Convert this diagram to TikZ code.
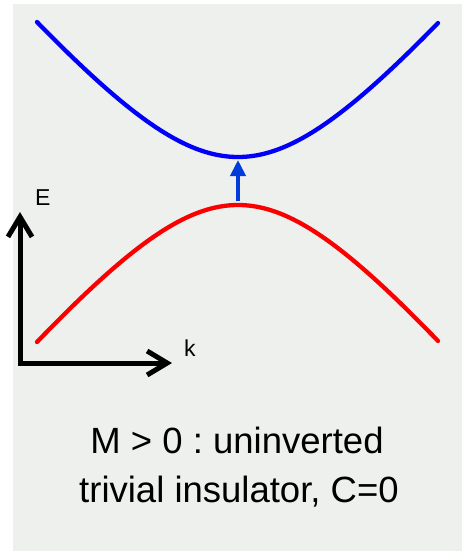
\documentclass[tikz,border=0pt]{standalone}
\usepackage{fontspec}
\setmainfont{Liberation Sans}
\usetikzlibrary{arrows.meta}
\definecolor{bggray}{RGB}{238,240,237}
\definecolor{bandblue}{RGB}{0,0,250}
\definecolor{bandred}{RGB}{250,0,0}
\definecolor{gapblue}{RGB}{0,60,220}
\frenchspacing
\tikzset{
  band/.style={line width=4.3pt, line cap=round},
  axis/.style={line width=5pt, line join=miter, {Straight Barb[length=20pt,width=24pt,line join=miter]}-{Straight Barb[length=20pt,width=24pt,line join=miter]}},
  gaparrow/.style={line width=3.8pt, gapblue, -{Triangle[length=16pt,width=15pt]}},
  axlabel/.style={font=\fontsize{23}{26}\selectfont, inner sep=0pt, anchor=base west},
  caption/.style={font=\fontsize{36.5}{40}\selectfont, inner sep=0pt, anchor=base}
}
\begin{document}
\begin{tikzpicture}[x=1pt,y=-1pt]
\useasboundingbox (0,0) rectangle (462,551);
\fill[bggray] (13,4) rectangle (462,551);
% bands (u = k/10)
\draw[band, bandblue] plot[domain=-20.1:20.0, samples=120, smooth] ({238+10*\x}, {157-10*(sqrt(225+1.4536*\x*\x)-15)});
\draw[band, bandred] plot[domain=-20.1:20.0, samples=120, smooth] ({238+10*\x}, {205+10*(sqrt(225+1.482*\x*\x)-15)});
% gap arrow
\coordinate (gapbot) at (238,201);
\coordinate (gaptop) at (238,160);
\draw[gaparrow] (gapbot) -- (gaptop);
% axes
\coordinate (etop) at (20,212);
\coordinate (origin) at (20,363);
\coordinate (kend) at (172,363);
\draw[axis] (etop) -- (origin) -- (kend);
\node[axlabel] (E) at (35,205) {E};
\node[axlabel] (k) at (184,356) {k};
% caption
\node[caption] (line1) at (237,453) {M > 0 : uninverted};
\node[caption] (line2) at (239,502) {trivial insulator, C=0};
\end{tikzpicture}
\end{document}
